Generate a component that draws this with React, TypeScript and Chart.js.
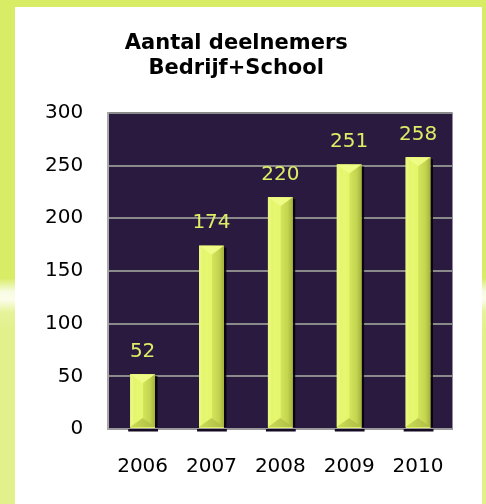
import React, { useEffect, useRef } from "react";
import { Chart, registerables } from "chart.js";

Chart.register(...registerables);

const categories = ["2006", "2007", "2008", "2009", "2010"];
const participants = [52, 174, 220, 251, 258];
const titleLines = ["Aantal deelnemers", "Bedrijf+School"];
const yMin = 0;
const yMax = 300;
const yStep = 50;

const FONT = "'DejaVu Sans', Verdana, sans-serif";

const plotBgPlugin = {
  id: "plotBg",
  beforeDraw(chart: any) {
    const { ctx, chartArea } = chart;
    ctx.save();
    ctx.fillStyle = "#2b1a3f";
    ctx.fillRect(chartArea.left, chartArea.top, chartArea.right - chartArea.left, chartArea.bottom - chartArea.top);
    ctx.restore();
  },
};

const bevelPlugin = {
  id: "bevel",
  afterDatasetsDraw(chart: any) {
    const { ctx } = chart;
    const meta = chart.getDatasetMeta(0);
    const values = chart.data.datasets[0].data;
    meta.data.forEach((el: any, i: number) => {
      const { x, y, base, width } = el.getProps(["x", "y", "base", "width"], true);
      const l = x - width / 2;
      const r = x + width / 2;
      const t = y;
      const b = base - 1;
      const d = Math.min(9, (b - t) / 2);
      ctx.save();
      // shadow on right
      ctx.fillStyle = "rgba(5,2,10,0.9)";
      ctx.fillRect(r, t + 2, 2.5, b - t - 2);
      // shadow under base
      ctx.fillStyle = "#140a22";
      ctx.fillRect(l - 2, base + 1, width + 5, 2.5);
      // body gradient
      const g = ctx.createLinearGradient(l, 0, r, 0);
      g.addColorStop(0, "#e2f468");
      g.addColorStop(0.3, "#e6f770");
      g.addColorStop(0.5, "#e4f66c");
      g.addColorStop(0.52, "#d2e55c");
      g.addColorStop(0.8, "#c3d44e");
      g.addColorStop(1, "#a4b23c");
      ctx.fillStyle = g;
      ctx.fillRect(l, t, width, b - t);
      // top triangle
      ctx.beginPath();
      ctx.moveTo(l, t);
      ctx.lineTo(r, t);
      ctx.lineTo(x, t + d);
      ctx.closePath();
      ctx.fillStyle = "#eefb84";
      ctx.fill();
      // bottom triangle
      ctx.beginPath();
      ctx.moveTo(l, b);
      ctx.lineTo(r, b);
      ctx.lineTo(x, b - d);
      ctx.closePath();
      const gb = ctx.createLinearGradient(l, 0, r, 0);
      gb.addColorStop(0, "#cbdc58");
      gb.addColorStop(1, "#aebc44");
      ctx.fillStyle = gb;
      ctx.fill();
      // left thin light edge
      ctx.beginPath();
      ctx.moveTo(l, t);
      ctx.lineTo(l + 3, t + 3);
      ctx.lineTo(l + 3, b - 3);
      ctx.lineTo(l, b);
      ctx.closePath();
      ctx.fillStyle = "rgba(255,255,200,0.25)";
      ctx.fill();
      // data label
      ctx.fillStyle = "#dcee66";
      ctx.font = `20px ${FONT}`;
      ctx.textAlign = "center";
      ctx.textBaseline = "middle";
      ctx.fillText(String(values[i]), x, t - 22.5);
      ctx.restore();
    });
  },
};

export default function App() {
  const canvasRef = useRef<HTMLCanvasElement | null>(null);

  useEffect(() => {
    if (!canvasRef.current) return;
    const chart = new Chart(canvasRef.current, {
      type: "bar",
      data: {
        labels: categories,
        datasets: [
          {
            data: participants,
            backgroundColor: "#dff06a",
            borderWidth: 0,
            barPercentage: 0.36,
            categoryPercentage: 1,
          },
        ],
      },
      options: {
        animation: false,
        responsive: false,
        devicePixelRatio: 1,
        layout: { padding: { left: 20, right: 33.5, top: 0, bottom: 0 } },
        plugins: {
          legend: { display: false },
          tooltip: { enabled: false },
          title: {
            display: true,
            text: titleLines,
            color: "#000",
            font: { family: FONT, size: 21, weight: "bold", lineHeight: 1.2 },
            padding: { top: 30.5, bottom: 32 },
          },
        },
        scales: {
          x: {
            grid: { display: false, drawTicks: false },
            border: { display: true, color: "#9a9a9a", width: 2 },
            ticks: { color: "#000", font: { family: FONT, size: 20 }, padding: 25.5 },
          },
          y: {
            min: yMin,
            max: yMax,
            ticks: { stepSize: yStep, color: "#000", font: { family: FONT, size: 20 }, padding: 25 },
            grid: { color: "#8a8a8a", lineWidth: 2, drawTicks: false },
            border: { display: true, color: "#a8a8a8", width: 2 },
          },
        },
      },
      plugins: [plotBgPlugin, bevelPlugin],
    });
    return () => chart.destroy();
  }, []);

  return (
    <div
      style={{
        position: "fixed",
        left: 0,
        top: 0,
        width: 486,
        height: 504,
        background:
          "linear-gradient(to bottom, #d8ec66 0px, #d8ec66 278px, #f8fce4 292px, #fbfde9 300px, #e6f39a 312px, #e2f18c 330px, #e2f18c 504px)",
      }}
    >
      <div
        style={{
          position: "absolute",
          left: 15,
          top: 7,
          width: 467,
          height: 497,
          background: "#ffffff",
        }}
      />
      <canvas
        ref={canvasRef}
        width={486}
        height={504}
        style={{ position: "absolute", left: 0, top: 0, width: 486, height: 504 }}
      />
    </div>
  );
}
